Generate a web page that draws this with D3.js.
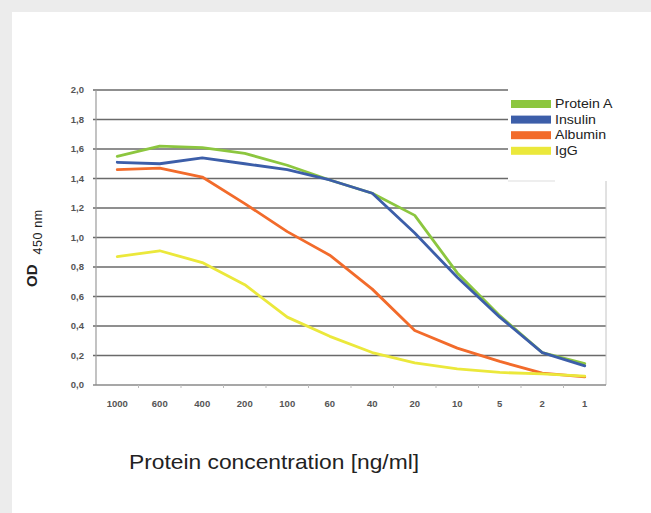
<!DOCTYPE html>
<html><head><meta charset="utf-8">
<script src="https://cdn.jsdelivr.net/npm/d3@7"></script>
<style>
html,body{margin:0;padding:0;background:#ececec;}
svg{display:block;font-family:"Liberation Sans",Arial,sans-serif;}
</style></head>
<body>
<svg id="c" width="651" height="513"></svg>
<script>
const categories = ["1000","600","400","200","100","60","40","20","10","5","2","1"];
const proteinA = [1.55,1.62,1.61,1.57,1.49,1.39,1.30,1.15,0.76,0.47,0.22,0.145];
const insulin  = [1.51,1.50,1.54,1.50,1.46,1.39,1.30,1.03,0.73,0.46,0.22,0.13];
const albumin  = [1.46,1.47,1.41,1.23,1.04,0.88,0.65,0.37,0.25,0.16,0.08,0.055];
const igg      = [0.87,0.91,0.83,0.68,0.46,0.33,0.22,0.15,0.11,0.085,0.075,0.06];
const yTicks   = [0,0.2,0.4,0.6,0.8,1.0,1.2,1.4,1.6,1.8,2.0];
const seriesNames = ["Protein A","Insulin","Albumin","IgG"];
const seriesColors = ["#8cc63f","#3c5ea9","#f26b2b","#ebe83b"];
const seriesData = [proteinA, insulin, albumin, igg];

const svg = d3.select("#c");
svg.append("rect").attr("x",12).attr("y",12).attr("width",651-12).attr("height",513-12).attr("fill","#fff");

const L=96, R=606, T=90, B=385;
const x = d3.scaleBand().domain(categories).range([L,R]);
const y = d3.scaleLinear().domain([0,2]).range([B,T]);

svg.append("g").selectAll("line").data(yTicks.filter(d=>d>0)).enter().append("line")
  .attr("x1",L-3).attr("x2",R).attr("y1",d=>y(d)).attr("y2",d=>y(d))
  .attr("stroke","#6a6a6a").attr("stroke-width",1.6);

svg.append("line").attr("x1",R).attr("x2",R).attr("y1",T).attr("y2",B).attr("stroke","#c4c4c4").attr("stroke-width",1);
svg.append("line").attr("x1",L).attr("x2",L).attr("y1",T).attr("y2",B).attr("stroke","#9a9a9a").attr("stroke-width",1.2);
svg.append("line").attr("x1",L-3).attr("x2",R).attr("y1",B).attr("y2",B).attr("stroke","#8a8a8a").attr("stroke-width",1.4);

svg.append("g").selectAll("line").data(categories.slice(1)).enter().append("line")
  .attr("x1",d=>x(d)).attr("x2",d=>x(d)).attr("y1",B).attr("y2",B+3)
  .attr("stroke","#bbb").attr("stroke-width",1);

svg.append("g").selectAll("text").data(yTicks).enter().append("text")
  .attr("x",84).attr("y",d=>y(d)).attr("dy","0.35em").attr("text-anchor","end")
  .attr("font-size",9.5).attr("fill","#555").attr("font-weight","bold")
  .text(d=>d.toFixed(1).replace(".",","));

svg.append("g").selectAll("text").data(categories).enter().append("text")
  .attr("x",d=>x(d)+x.bandwidth()/2).attr("y",404).attr("dy","0.35em").attr("text-anchor","middle")
  .attr("font-size",9.5).attr("fill","#555").attr("font-weight","bold")
  .text(d=>d);

const line = d3.line().x((d,i)=>x(categories[i])+x.bandwidth()/2).y(d=>y(d));
seriesData.forEach((s,k)=>{
  svg.append("path").datum(s).attr("d",line).attr("fill","none")
    .attr("stroke",seriesColors[k]).attr("stroke-width",2.8)
    .attr("stroke-linejoin","round").attr("stroke-linecap","round");
});

// legend
svg.append("rect").attr("x",508).attr("y",84).attr("width",135).attr("height",97).attr("fill","#fff");
svg.append("line").attr("x1",508).attr("x2",555).attr("y1",181).attr("y2",181).attr("stroke","#ddd").attr("stroke-width",1);
const lg = svg.append("g");
seriesNames.forEach((n,k)=>{
  const cy = 104 + k*15.6;
  lg.append("rect").attr("x",511).attr("y",cy-4).attr("width",40).attr("height",8).attr("fill",seriesColors[k]);
  lg.append("text").attr("transform",`translate(555,${cy}) scale(1.18,1)`).attr("dy","0.35em")
    .attr("font-size",12).attr("fill","#222").text(n);
});

// y axis title
const yt = svg.append("text").attr("transform","translate(37,287) rotate(-90)").attr("fill","#222");
yt.append("tspan").attr("font-size",15).attr("font-weight","bold").text("OD");
yt.append("tspan").attr("font-size",12.5).attr("letter-spacing",0.6).attr("dx",10).attr("dy",4.5).text("450 nm");

// x axis title
svg.append("text").attr("transform","translate(274,469) scale(1.14,1)").attr("text-anchor","middle")
  .attr("font-size",20).attr("fill","#222").text("Protein concentration [ng/ml]");
</script>
</body></html>
